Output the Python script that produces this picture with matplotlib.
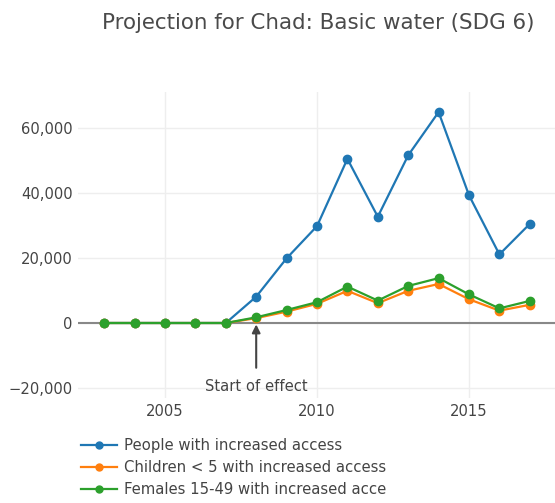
import matplotlib
matplotlib.use('Agg')
import matplotlib.pyplot as plt
import matplotlib.ticker as tck
from matplotlib.transforms import Bbox

plt.rcParams['font.family'] = ['DejaVu Sans']

years = list(range(2003, 2018))
people = [0, 0, 0, 0, 0, 8100, 19900, 29800, 50500, 32700, 51600, 64900, 39300, 21100, 30500]
children = [0, 0, 0, 0, 0, 1500, 3500, 5900, 9900, 6100, 9900, 12000, 7300, 3800, 5600]
females = [0, 0, 0, 0, 0, 1750, 4000, 6400, 11200, 6900, 11400, 13800, 8800, 4500, 6800]

series_names = ['People with increased access',
                'Children < 5 with increased access',
                'Females 15-49 with increased access']
colors = ['#1f77b4', '#ff7f0e', '#2ca02c']
title = 'Projection for Chad: Basic water (SDG 6)'
effect_year = 2008

W, H = 555, 503
fig = plt.figure(figsize=(W / 100, H / 100), dpi=100)

# plot area in pixels (runs off the right edge like the reference)
left, right, top, bottom = 78, 580, 92, 398
ax = fig.add_axes([left / W, 1 - bottom / H, (right - left) / W, (bottom - top) / H])

px_per_year = 30.4
x0 = 2005 - (165 - left) / px_per_year
ax.set_xlim(x0, x0 + (right - left) / px_per_year)
ppu = 65 / 20000.0
ax.set_ylim(-(bottom - 323) / ppu, (323 - top) / ppu)

handles = []
for vals, c, name in zip([people, children, females], colors, series_names):
    h, = ax.plot(years, vals, color=c, lw=1.6, marker='o', ms=6, label=name, zorder=3)
    handles.append(h)

ax.axhline(0, color='#888888', lw=1.5, zorder=2)

ax.set_xticks([2005, 2010, 2015])
ax.set_yticks([-20000, 0, 20000, 40000, 60000])
ax.yaxis.set_major_formatter(tck.FuncFormatter(lambda v, p: '{:,.0f}'.format(v).replace('-', '\u2212')))
ax.grid(True, color='#eeeeee', lw=1, zorder=0)
for s in ax.spines.values():
    s.set_visible(False)
ax.tick_params(length=0, labelsize=10.6, colors='#444444', pad=4)

ax.annotate('Start of effect', xy=(effect_year, 0), xytext=(effect_year, -19500),
            ha='center', va='center', fontsize=10.6, color='#444444',
            arrowprops=dict(arrowstyle='-|>', color='#444444', lw=1.5,
                            mutation_scale=12, shrinkA=6, shrinkB=1))

fig.text(318 / W, 1 - 23 / H, title, ha='center', va='center', fontsize=15.4, color='#4a4a4a')

leg = fig.legend(handles=handles, loc='upper left', bbox_to_anchor=(81 / W, 1 - 438 / H),
                 frameon=False, fontsize=10.7, handlelength=2.4, handletextpad=0.5,
                 labelspacing=0.48, borderaxespad=0, borderpad=0)
# legend box is clipped on the right like in the original
clip = Bbox.from_extents(0, 0, 387, H)
for t in leg.get_texts():
    t.set_color('#444444')
    t.set_clip_box(clip)
    t.set_clip_on(True)
for l in leg.get_lines():
    l.set_markersize(5)

fig.savefig('out.png', dpi=100)
